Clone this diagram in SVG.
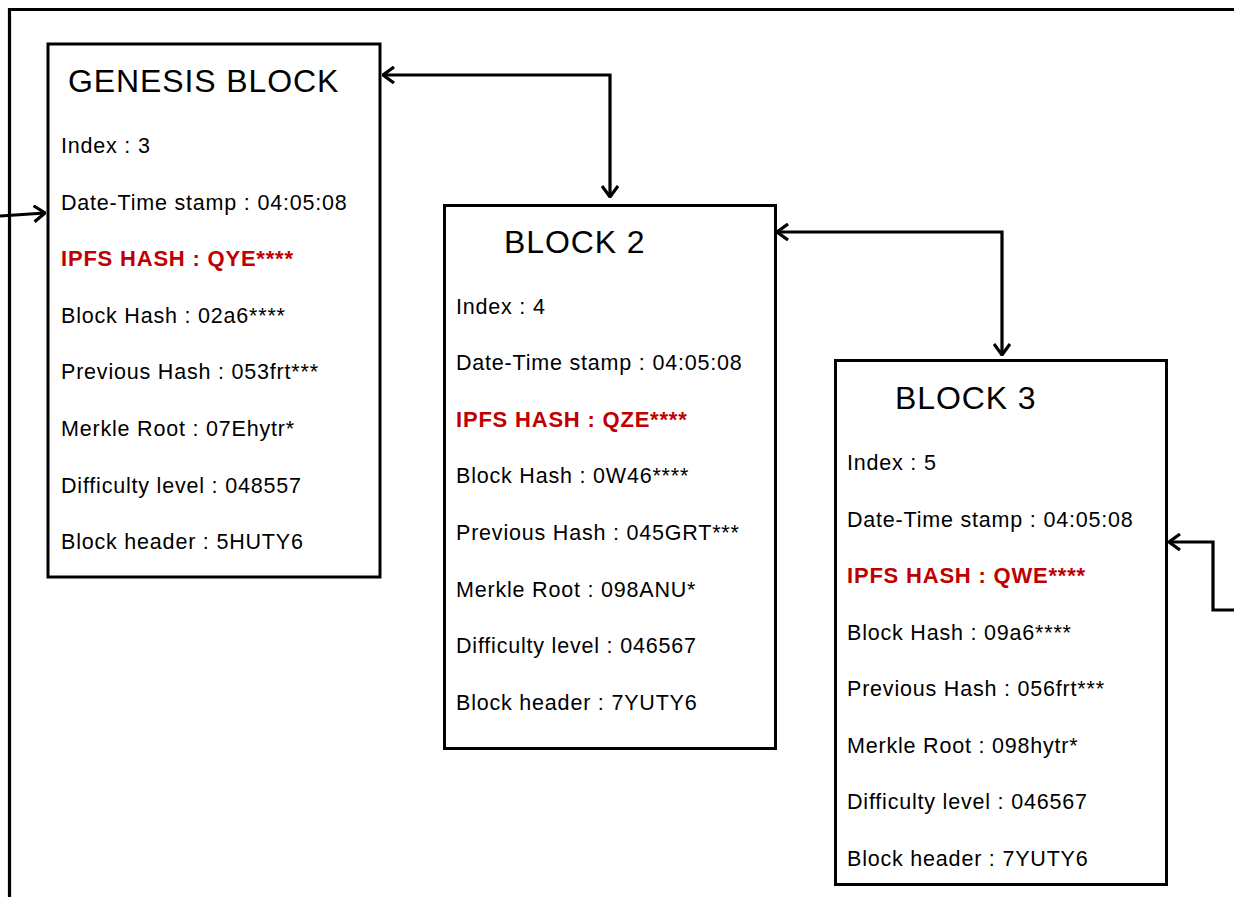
<svg xmlns="http://www.w3.org/2000/svg" width="1234" height="897" viewBox="0 0 1234 897">
<defs>
<style>
.box{fill:#fff;stroke:#000;stroke-width:3}
.t{font-family:"Liberation Sans",Arial,sans-serif;font-size:21.5px;letter-spacing:0.8px;fill:#000}
.h{font-family:"Liberation Sans",Arial,sans-serif;font-size:32px;letter-spacing:0.9px;fill:#000}
.r{font-family:"Liberation Sans",Arial,sans-serif;font-size:22px;font-weight:bold;letter-spacing:0.8px;fill:#C00000}
.c{fill:none;stroke:#000;stroke-width:3.2;stroke-linejoin:miter}
</style>
<marker id="ah" viewBox="0 0 13 18" refX="12" refY="9" markerWidth="13" markerHeight="18" markerUnits="userSpaceOnUse" orient="auto-start-reverse">
<path d="M1,1 L12,9 L1,17" fill="none" stroke="#000" stroke-width="3.2"/>
</marker>
</defs>
<rect width="1234" height="897" fill="#fff"/>
<g id="frame">
<path class="c" d="M9.5,897 L9.5,9.5 L1234,9.5"/>
</g>
<g id="connectors">
<path class="c" d="M0,216 L45,213" marker-end="url(#ah)"/>
<path class="c" d="M383,75 L610,75 L610,197" marker-start="url(#ah)" marker-end="url(#ah)"/>
<path class="c" d="M777,232 L1002,232 L1002,355" marker-start="url(#ah)" marker-end="url(#ah)"/>
<path class="c" d="M1234,610 L1213,610 L1213,542 L1169,542" marker-end="url(#ah)"/>
</g>
<g id="genesis">
<rect class="box" x="48" y="44" width="332" height="533"/>
<text class="h" x="68" y="92">GENESIS BLOCK</text>
<text class="t" x="61" y="153">Index : 3</text>
<text class="t" x="61" y="209.6">Date-Time stamp : 04:05:08</text>
<text class="r" x="61" y="266.2">IPFS HASH : QYE****</text>
<text class="t" x="61" y="322.8">Block Hash : 02a6****</text>
<text class="t" x="61" y="379.4">Previous Hash : 053frt***</text>
<text class="t" x="61" y="436">Merkle Root : 07Ehytr*</text>
<text class="t" x="61" y="492.6">Difficulty level : 048557</text>
<text class="t" x="61" y="549.2">Block header : 5HUTY6</text>
</g>
<g id="block2">
<rect class="box" x="444.5" y="205.5" width="331" height="543"/>
<text class="h" x="504" y="253">BLOCK 2</text>
<text class="t" x="456" y="313.5">Index : 4</text>
<text class="t" x="456" y="370.1">Date-Time stamp : 04:05:08</text>
<text class="r" x="456" y="426.7">IPFS HASH : QZE****</text>
<text class="t" x="456" y="483.3">Block Hash : 0W46****</text>
<text class="t" x="456" y="539.9">Previous Hash : 045GRT***</text>
<text class="t" x="456" y="596.5">Merkle Root : 098ANU*</text>
<text class="t" x="456" y="653.1">Difficulty level : 046567</text>
<text class="t" x="456" y="709.7">Block header : 7YUTY6</text>
</g>
<g id="block3">
<rect class="box" x="835.5" y="360.5" width="331" height="524"/>
<text class="h" x="895" y="408.5">BLOCK 3</text>
<text class="t" x="847" y="470">Index : 5</text>
<text class="t" x="847" y="526.5">Date-Time stamp : 04:05:08</text>
<text class="r" x="847" y="583">IPFS HASH : QWE****</text>
<text class="t" x="847" y="639.5">Block Hash : 09a6****</text>
<text class="t" x="847" y="696">Previous Hash : 056frt***</text>
<text class="t" x="847" y="752.5">Merkle Root : 098hytr*</text>
<text class="t" x="847" y="809">Difficulty level : 046567</text>
<text class="t" x="847" y="865.5">Block header : 7YUTY6</text>
</g>
</svg>
